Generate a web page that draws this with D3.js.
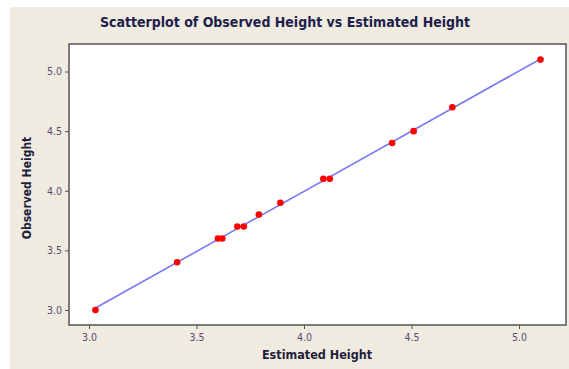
<!DOCTYPE html>
<html>
<head>
<meta charset="utf-8">
<script src="https://cdn.jsdelivr.net/npm/d3@7"></script>
<style>
  body { margin: 0; background: #fff; }
  svg text { font-family: "DejaVu Sans", sans-serif; }
</style>
</head>
<body>
<div id="chart"></div>
<script>
// estimated vs observed height
var estimated = [3.03, 3.41, 3.60, 3.62, 3.69, 3.72, 3.79, 3.89, 4.09, 4.12, 4.41, 4.51, 4.69, 5.10];
var observed  = [3.0, 3.4, 3.6, 3.6, 3.7, 3.7, 3.8, 3.9, 4.1, 4.1, 4.4, 4.5, 4.7, 5.1];
var xTicks = [3.0, 3.5, 4.0, 4.5, 5.0];
var yTicks = [3.0, 3.5, 4.0, 4.5, 5.0];

var width = 569, height = 369;
var plot = { left: 69, top: 44, right: 566, bottom: 325 };

var svg = d3.select("#chart").append("svg")
    .attr("width", width)
    .attr("height", height);

// panel background
svg.append("rect")
    .attr("x", 10).attr("y", 7)
    .attr("width", width - 10).attr("height", height - 7)
    .attr("fill", "#efebe1");

// scales: 3.0 -> 89px, 5.0 -> 519px ; 3.0 -> 310px, 5.0 -> 71.5px
var x = d3.scaleLinear().domain([3.0, 5.0]).range([89, 519]);
var y = d3.scaleLinear().domain([3.0, 5.0]).range([310, 71.5]);

svg.append("rect")
    .attr("x", plot.left).attr("y", plot.top)
    .attr("width", plot.right - plot.left).attr("height", plot.bottom - plot.top)
    .attr("fill", "#fff")
    .attr("stroke", "#555")
    .attr("stroke-width", 1.5);

var xAxis = svg.append("g")
    .attr("transform", "translate(0," + plot.bottom + ")")
    .call(d3.axisBottom(x).tickValues(xTicks).tickFormat(d3.format(".1f")).tickSize(4).tickPadding(5));
var yAxis = svg.append("g")
    .attr("transform", "translate(" + plot.left + ",0)")
    .call(d3.axisLeft(y).tickValues(yTicks).tickFormat(d3.format(".1f")).tickSize(4).tickPadding(3));

[xAxis, yAxis].forEach(function(g) {
  g.select(".domain").remove();
  g.selectAll(".tick line").attr("stroke", "#555");
  g.selectAll(".tick text")
    .attr("fill", "#5b4a6e")
    .style("font-size", "10.5px")
    .style("font-family", "'DejaVu Sans Condensed', 'DejaVu Sans', sans-serif");
});

// fitted line over the data range
var pts = estimated.map(function(e, i) { return { x: e, y: observed[i] }; });
var mx = d3.mean(estimated), my = d3.mean(observed);
var b = d3.sum(pts, function(p) { return (p.x - mx) * (p.y - my); }) /
        d3.sum(pts, function(p) { return (p.x - mx) * (p.x - mx); });
var a = my - b * mx;
var ext = d3.extent(estimated);

svg.append("line")
    .attr("x1", x(ext[0])).attr("y1", y(a + b * ext[0]))
    .attr("x2", x(ext[1])).attr("y2", y(a + b * ext[1]))
    .attr("stroke", "#7878f5")
    .attr("stroke-width", 1.6);

svg.selectAll("circle.pt")
  .data(pts)
  .enter()
    .append("circle")
    .attr("class", "pt")
    .attr("cx", function(d) { return x(d.x); })
    .attr("cy", function(d) { return y(d.y); })
    .attr("r", 3.3)
    .attr("fill", "#ff0000");

// titles
svg.append("text")
    .attr("x", 285).attr("y", 27)
    .attr("text-anchor", "middle")
    .attr("fill", "#1e1e4a")
    .style("font-size", "14px")
    .style("font-weight", "bold")
    .style("font-family", "'DejaVu Sans Condensed', 'DejaVu Sans', sans-serif")
    .text("Scatterplot of Observed Height vs Estimated Height");

svg.append("text")
    .attr("x", 317).attr("y", 359)
    .attr("text-anchor", "middle")
    .attr("fill", "#1e1e3a")
    .style("font-size", "12.5px")
    .style("font-weight", "bold")
    .style("font-family", "'DejaVu Sans Condensed', 'DejaVu Sans', sans-serif")
    .text("Estimated Height");

svg.append("text")
    .attr("transform", "translate(31,188) rotate(-90)")
    .attr("text-anchor", "middle")
    .attr("fill", "#1e1e3a")
    .style("font-size", "12px")
    .style("font-weight", "bold")
    .style("font-family", "'DejaVu Sans Condensed', 'DejaVu Sans', sans-serif")
    .text("Observed Height");
</script>
</body>
</html>
